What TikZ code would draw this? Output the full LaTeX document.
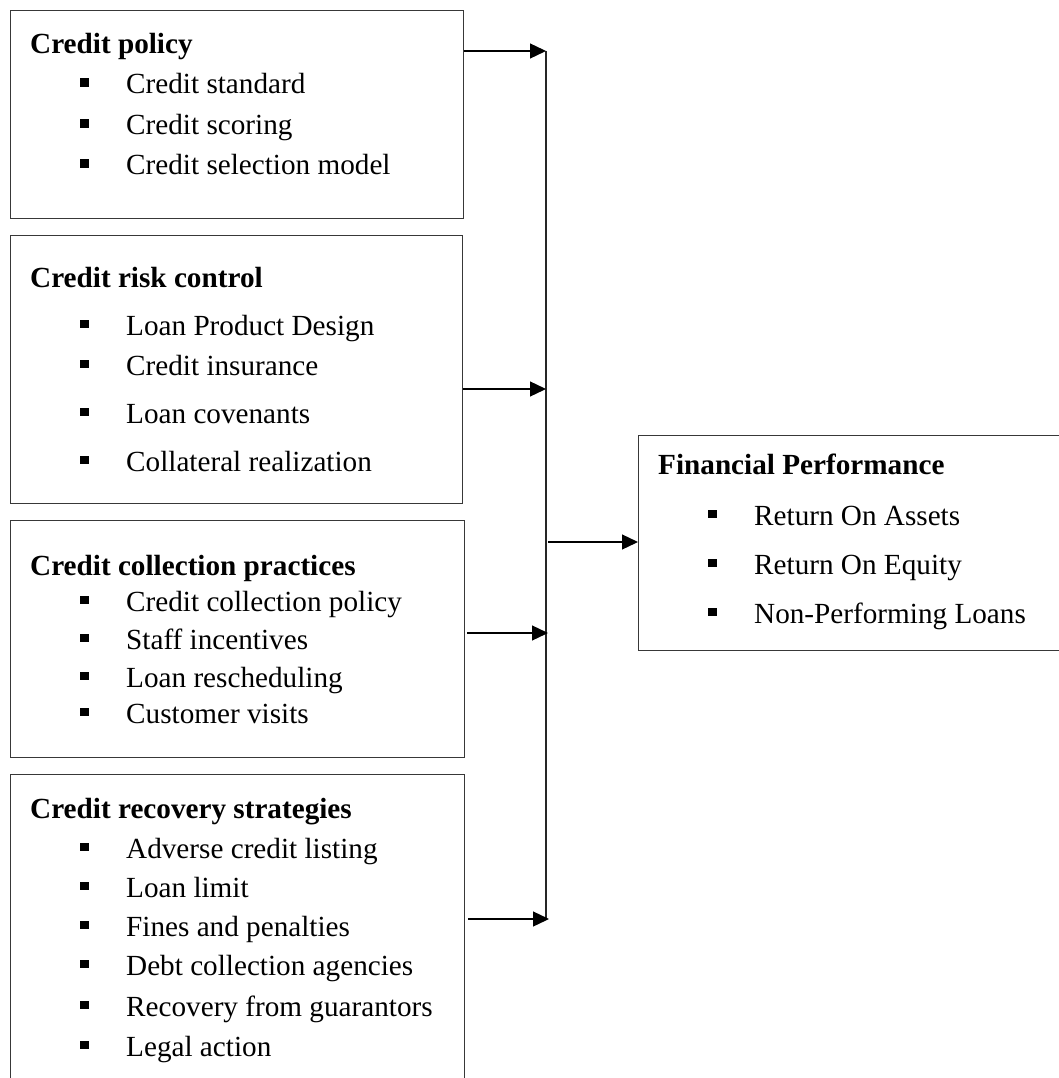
\documentclass[tikz,border=0pt]{standalone}
\usepackage{fontspec}
\setmainfont{Liberation Serif}
\usetikzlibrary{arrows.meta}
% square bullet followed by the indent before the item text
\newcommand\sqbullet{\rule[7pt]{8.5pt}{8.5pt}\hspace{37.5pt}}
\begin{document}
\begin{tikzpicture}[x=1pt,y=-1pt,
  frame/.style={draw=black!78, line width=1.3pt, inner sep=0pt, anchor=north west},
  head/.style={anchor=base west, inner sep=0pt, font=\fontsize{29.2pt}{35pt}\selectfont\bfseries},
  entry/.style={anchor=base west, inner sep=0pt, font=\fontsize{29.2pt}{35pt}\selectfont},
  spine/.style={draw=black!85, line width=1.3pt},
  link/.style={draw=black, line width=1.3pt, -{Triangle[length=16pt,width=15pt]}}]
\useasboundingbox (0,0) rectangle (1059,1078);
\clip (0,0) rectangle (1059,1078);

% factor boxes
\node[frame, minimum width=453pt, minimum height=208pt] (b1) at (10,10) {};
\node[frame, minimum width=452pt, minimum height=268pt] (b2) at (10,235) {};
\node[frame, minimum width=454pt, minimum height=237pt] (b3) at (10,520) {};
\node[frame, minimum width=454pt, minimum height=400pt] (b4) at (10,774) {};
\node[frame, minimum width=500pt, minimum height=215pt] (fp) at (638,435) {};

% Credit policy
\node[head]  (h1)  at (30,54)  {Credit policy};
\node[entry] (e11) at (80,94)  {\sqbullet Credit standard};
\node[entry] (e12) at (80,135) {\sqbullet Credit scoring};
\node[entry] (e13) at (80,175) {\sqbullet Credit selection model};

% Credit risk control
\node[head]  (h2)  at (30,287) {Credit risk control};
\node[entry] (e21) at (80,335) {\sqbullet Loan Product Design};
\node[entry] (e22) at (80,375) {\sqbullet Credit insurance};
\node[entry] (e23) at (80,423) {\sqbullet Loan covenants};
\node[entry] (e24) at (80,471) {\sqbullet Collateral realization};

% Credit collection practices
\node[head]  (h3)  at (30,575) {Credit collection practices};
\node[entry] (e31) at (80,611) {\sqbullet Credit collection policy};
\node[entry] (e32) at (80,649) {\sqbullet Staff incentives};
\node[entry] (e33) at (80,687) {\sqbullet Loan rescheduling};
\node[entry] (e34) at (80,723) {\sqbullet Customer visits};

% Credit recovery strategies
\node[head]  (h4)  at (30,818)  {Credit recovery strategies};
\node[entry] (e41) at (80,858)  {\sqbullet Adverse credit listing};
\node[entry] (e42) at (80,897)  {\sqbullet Loan limit};
\node[entry] (e43) at (80,936)  {\sqbullet Fines and penalties};
\node[entry] (e44) at (80,975)  {\sqbullet Debt collection agencies};
\node[entry] (e45) at (80,1016) {\sqbullet Recovery from guarantors};
\node[entry] (e46) at (80,1056) {\sqbullet Legal action};

% Financial Performance
\node[head]  (h5)  at (658,474) {Financial Performance};
\node[entry] (e51) at (708,525) {\sqbullet Return On Assets};
\node[entry] (e52) at (708,574) {\sqbullet Return On Equity};
\node[entry] (e53) at (708,623) {\sqbullet Non-Performing Loans};

% collecting line and its junctions
\coordinate (s1) at (546,51);
\coordinate (s2) at (546,389);
\coordinate (s3) at (548,633);
\coordinate (s4) at (549,919);
\coordinate (s5) at (548,542);
\coordinate (stop) at (546,51);
\coordinate (sbot) at (546,920);
\draw[spine] (stop) -- (sbot);

% arrows into the collecting line
\draw[link] (b1.east |- s1) -- (s1);
\draw[link] (b2.east |- s2) -- (s2);
\draw[link] ([xshift=2pt]b3.east |- s3) -- (s3);
\draw[link] ([xshift=3pt]b4.east |- s4) -- (s4);

% arrow to the outcome box
\draw[link] (s5) -- (fp.west |- s5);
\end{tikzpicture}
\end{document}
